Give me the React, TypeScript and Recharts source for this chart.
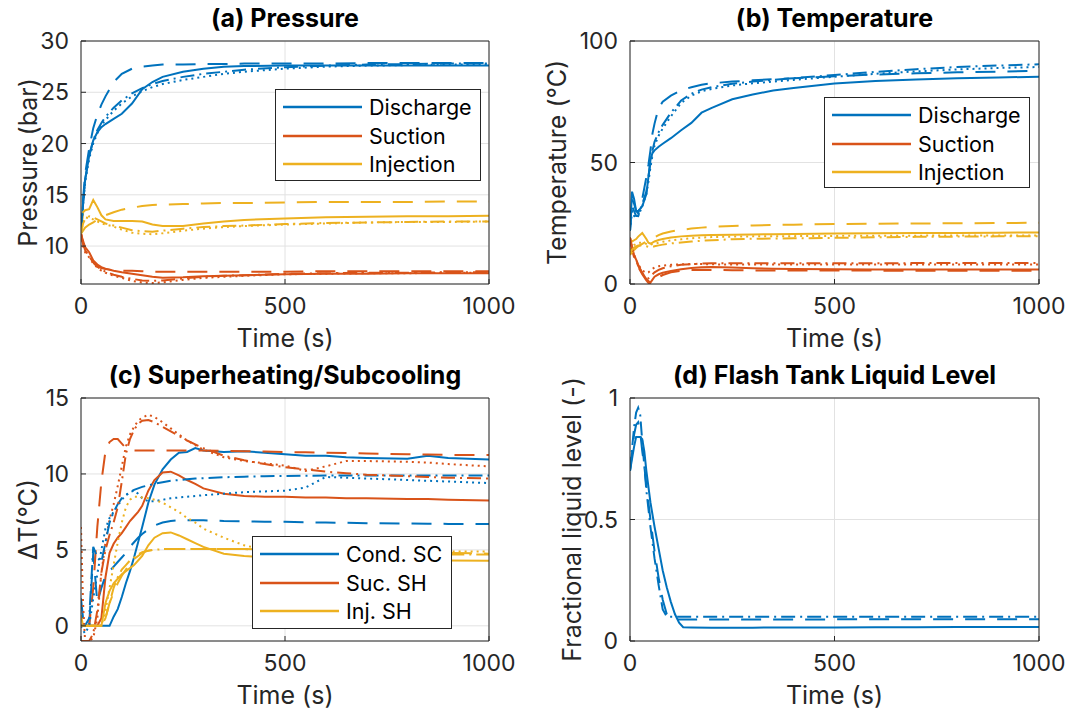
import React from 'react';
import { LineChart, Line, XAxis, YAxis, CartesianGrid, Legend } from 'recharts';

const BLUE = '#0072BD';
const ORANGE = '#D95319';
const YELLOW = '#EDB120';
const DASHED = '20 12';
const DOTTED = '2 4';
const DASHDOT = '14 5 2 5';

const TIME_TICKS = [0, 500, 1000];

// ---------- (a) Pressure ----------
const TIME_A = [0, 5, 10, 20, 30, 40, 50, 60, 80, 100, 125, 150, 175, 200, 250, 300, 350, 400, 500, 600, 700, 800, 900, 1000];
const A_DIS_SOLID = [11.2, 14.0, 16.4, 18.8, 20.3, 21.1, 21.6, 21.9, 22.4, 22.9, 23.9, 25.3, 26.0, 26.5, 27.0, 27.3, 27.5, 27.55, 27.6, 27.6, 27.6, 27.6, 27.6, 27.6];
const A_DIS_DASH = [11.2, 14.5, 17.0, 19.5, 21.5, 22.8, 23.8, 24.6, 26.0, 26.8, 27.3, 27.5, 27.6, 27.7, 27.7, 27.75, 27.75, 27.8, 27.8, 27.8, 27.85, 27.85, 27.85, 27.85];
const A_DIS_DOT = [11.2, 14.0, 16.2, 18.5, 20.0, 21.0, 21.8, 22.3, 23.2, 23.9, 24.6, 25.1, 25.5, 25.8, 26.2, 26.5, 26.8, 27.0, 27.3, 27.5, 27.6, 27.65, 27.7, 27.7];
const A_DIS_DASHDOT = [11.2, 14.2, 16.5, 18.8, 20.3, 21.3, 22.0, 22.6, 23.5, 24.2, 24.9, 25.4, 25.8, 26.1, 26.5, 26.8, 27.0, 27.2, 27.45, 27.6, 27.7, 27.75, 27.8, 27.8];
const A_SUC_SOLID = [11.2, 10.5, 9.9, 9.4, 8.6, 8.2, 7.95, 7.8, 7.6, 7.45, 7.3, 7.15, 7.0, 6.9, 6.95, 7.05, 7.1, 7.15, 7.25, 7.3, 7.3, 7.35, 7.35, 7.35];
const A_SUC_DASH = [11.2, 10.3, 9.6, 9.0, 8.4, 8.0, 7.85, 7.75, 7.65, 7.6, 7.6, 7.55, 7.5, 7.5, 7.5, 7.5, 7.5, 7.5, 7.5, 7.55, 7.55, 7.55, 7.55, 7.55];
const A_SUC_DOT = [11.2, 10.0, 9.4, 8.9, 8.3, 7.9, 7.6, 7.4, 7.1, 6.9, 6.6, 6.45, 6.4, 6.45, 6.7, 6.9, 7.0, 7.1, 7.25, 7.3, 7.35, 7.35, 7.4, 7.4];
const A_SUC_DASHDOT = [11.2, 10.2, 9.6, 9.0, 8.4, 8.0, 7.7, 7.5, 7.2, 7.0, 6.8, 6.65, 6.6, 6.65, 6.85, 7.0, 7.1, 7.15, 7.3, 7.35, 7.4, 7.4, 7.45, 7.45];
const A_INJ_SOLID = [11.2, 13.3, 13.5, 13.6, 14.5, 13.8, 13.0, 12.6, 12.45, 12.45, 12.45, 12.4, 12.1, 11.95, 11.95, 12.2, 12.4, 12.55, 12.7, 12.8, 12.85, 12.9, 12.9, 12.95];
const A_INJ_DASH = [11.2, 11.5, 11.8, 12.1, 12.3, 12.6, 12.8, 13.0, 13.3, 13.55, 13.75, 13.9, 14.0, 14.05, 14.1, 14.15, 14.2, 14.2, 14.25, 14.3, 14.3, 14.3, 14.35, 14.35];
const A_INJ_DOT = [11.2, 12.4, 12.8, 12.7, 12.6, 12.4, 12.2, 12.1, 11.9, 11.6, 11.3, 11.2, 11.15, 11.25, 11.5, 11.7, 11.85, 11.95, 12.1, 12.2, 12.3, 12.35, 12.35, 12.4];
const A_INJ_DASHDOT = [11.2, 12.2, 12.6, 12.9, 12.8, 12.6, 12.4, 12.2, 12.0, 11.8, 11.55, 11.45, 11.4, 11.5, 11.7, 11.85, 11.95, 12.0, 12.15, 12.25, 12.3, 12.35, 12.4, 12.4];
const A_Y_TICKS = [10, 15, 20, 25, 30];

// ---------- (b) Temperature ----------
const TIME_B = [0, 5, 10, 15, 20, 30, 40, 45, 50, 55, 60, 70, 80, 100, 125, 150, 175, 200, 250, 300, 350, 400, 500, 600, 700, 800, 900, 1000];
const B_DIS_SOLID = [22, 38, 35, 30, 30, 32, 37, 44, 51, 54, 55, 56.5, 57.7, 60, 63.3, 66.3, 70.5, 72.5, 76, 78, 79.6, 80.7, 82.5, 83.5, 84.2, 84.7, 85.0, 85.3];
const B_DIS_DASH = [22, 35, 33, 30, 29, 35, 44, 49, 55, 62, 66, 72.5, 75, 77.5, 79.7, 81, 82, 82.6, 83.3, 83.8, 84.3, 84.7, 85.5, 86.2, 86.7, 87.1, 87.4, 87.7];
const B_DIS_DOT = [22, 30, 28, 27, 28, 32, 37, 42, 48, 53, 57, 61, 64, 69, 74.5, 77.5, 79.3, 80.3, 81.7, 82.6, 83.3, 84, 85.3, 86.5, 87.5, 88.3, 88.9, 89.3];
const B_DIS_DASHDOT = [22, 32, 30, 28, 28, 33, 38, 44, 50, 55, 58.5, 62.5, 65.5, 70.5, 75.5, 78.3, 80, 81, 82.4, 83.3, 84, 84.7, 86.0, 87.3, 88.4, 89.3, 89.9, 90.4];
const B_SUC_SOLID = [19, 15, 12, 10, 8, 4.5, 2, 1.2, 0.6, 1.8, 3.0, 4.0, 4.6, 5.4, 6.1, 6.6, 6.9, 7.0, 6.8, 6.5, 6.3, 6.2, 6.1, 6.0, 6.0, 6.0, 6.0, 6.0];
const B_SUC_DASH = [19, 14, 11, 9, 7, 4, 1.5, 0.5, 0.2, 0.5, 1.5, 2.8, 3.7, 4.8, 5.5, 5.8, 5.9, 5.8, 5.7, 5.6, 5.6, 5.6, 5.55, 5.5, 5.5, 5.5, 5.5, 5.5];
const B_SUC_DOT = [19, 15, 12, 10, 8, 5.5, 4.5, 4.8, 5.5, 6.3, 6.8, 7.3, 7.6, 7.9, 8.1, 8.2, 8.2, 8.1, 8.0, 8.0, 8.0, 8.0, 8.0, 8.0, 8.0, 8.0, 8.0, 8.0];
const B_SUC_DASHDOT = [19, 14.5, 11.5, 9.5, 7.5, 4.5, 2.5, 2.3, 3, 4.0, 4.8, 5.8, 6.5, 7.3, 7.9, 8.2, 8.4, 8.5, 8.5, 8.5, 8.5, 8.5, 8.55, 8.55, 8.6, 8.6, 8.6, 8.6];
const B_INJ_SOLID = [18, 17.5, 18, 18.5, 19.5, 21, 18.5, 17, 16.6, 17, 17.5, 18.1, 18.5, 19.1, 19.6, 19.9, 20.1, 20.2, 20.3, 20.4, 20.5, 20.6, 20.8, 20.9, 21.0, 21.0, 21.1, 21.2];
const B_INJ_DASH = [12, 13, 14, 14.8, 15.5, 16.5, 17.5, 18, 18.4, 18.8, 19.2, 20.1, 20.8, 21.6, 22.3, 22.8, 23.2, 23.5, 23.9, 24.1, 24.3, 24.4, 24.7, 24.8, 24.9, 25.0, 25.1, 25.2];
const B_INJ_DOT = [14, 15, 16, 16.5, 17, 17, 16.5, 16.2, 16.2, 16.4, 16.6, 17, 17.4, 17.9, 18.4, 18.8, 19.1, 19.3, 19.5, 19.6, 19.65, 19.7, 19.8, 19.85, 19.9, 19.95, 20.0, 20.0];
const B_INJ_DASHDOT = [13, 14, 15, 15.5, 15.8, 15.8, 15.5, 15.3, 15.2, 15.3, 15.5, 15.9, 16.2, 16.7, 17.1, 17.5, 17.8, 18.0, 18.4, 18.6, 18.7, 18.8, 19.0, 19.2, 19.4, 19.5, 19.6, 19.7];
const B_Y_TICKS = [0, 50, 100];

// ---------- (c) Superheating / Subcooling ----------
const TIME_C = [0, 5, 10, 20, 30, 40, 50, 60, 70, 80, 90, 100, 110, 120, 130, 140, 150, 165, 180, 200, 220, 240, 260, 280, 300, 350, 400, 450, 500, 550, 600, 650, 700, 800, 850, 900, 1000];
const C_SC_SOLID = [0, 0, 0, 0, 0, 0, 0, 0, 0, 0.6, 1.1, 1.9, 2.8, 3.6, 4.5, 5.5, 6.5, 8.1, 9.3, 10.3, 10.95, 11.4, 11.45, 11.7, 11.55, 11.45, 11.5, 11.4, 11.3, 11.2, 11.2, 11.1, 11.05, 11.0, 11.2, 11.05, 10.95];
const C_SC_DASH = [1.8, 0.5, 0, 0, 4.8, 1.5, 2.5, 3.3, 3.6, 3.9, 4.2, 4.5, 4.8, 5.2, 5.5, 5.8, 6.05, 6.35, 6.6, 6.8, 6.9, 6.95, 6.95, 6.95, 6.95, 6.9, 6.88, 6.85, 6.85, 6.82, 6.8, 6.78, 6.76, 6.74, 6.72, 6.71, 6.7];
const C_SC_DOT = [0, -0.3, -0.5, 0, 1.8, 3.4, 5.0, 6.4, 7.1, 7.5, 7.9, 8.3, 8.6, 8.8, 8.9, 8.7, 8.4, 8.2, 8.2, 8.3, 8.4, 8.45, 8.5, 8.55, 8.6, 8.7, 8.8, 8.85, 8.9, 9.1, 9.8, 9.75, 9.7, 9.6, 9.55, 9.5, 9.4];
const C_SC_DASHDOT = [0, 0, 0, 0.5, 5.2, 4.5, 4.2, 5.5, 6.8, 7.5, 8.0, 8.4, 8.6, 8.8, 8.95, 9.05, 9.15, 9.25, 9.35, 9.45, 9.55, 9.6, 9.65, 9.7, 9.72, 9.78, 9.82, 9.85, 9.87, 9.88, 9.89, 9.9, 9.9, 9.9, 9.9, 9.9, 9.9];
const C_SH_SOLID = [0, 0, 0, 0, 0, 0, 0.5, 3.2, 4.8, 5.4, 5.8, 6.1, 6.5, 6.9, 7.2, 7.5, 7.9, 8.9, 9.6, 10.1, 10.15, 9.9, 9.6, 9.35, 9.05, 8.7, 8.55, 8.5, 8.5, 8.45, 8.45, 8.4, 8.4, 8.35, 8.35, 8.3, 8.25];
const C_SH_DASH = [0, 0, 0, 0, 2.5, 6.5, 9.5, 11.5, 12.1, 12.3, 12.3, 12.0, 11.7, 11.6, 11.55, 11.55, 11.55, 11.55, 11.55, 11.55, 11.55, 11.55, 11.55, 11.55, 11.55, 11.52, 11.5, 11.47, 11.45, 11.42, 11.4, 11.38, 11.35, 11.3, 11.28, 11.25, 11.25];
const C_SH_DOT = [6.5, 1.5, -1, -1, -0.8, 0.5, 3.5, 5.5, 7.0, 8.0, 9.2, 10.5, 11.8, 12.6, 13.1, 13.5, 13.7, 13.9, 13.75, 13.4, 13.0, 12.6, 12.2, 11.9, 11.6, 11.1, 10.85, 10.7, 10.55, 10.2, 10.5, 10.85, 10.85, 10.8, 10.75, 10.65, 10.5];
const C_SH_DASHDOT = [-1, -1, -1, -1, -0.5, 1.0, 3.5, 5.0, 6.0, 6.8, 7.8, 9.5, 11.3, 12.3, 12.9, 13.3, 13.5, 13.55, 13.4, 13.1, 12.8, 12.5, 12.2, 11.95, 11.7, 11.2, 10.9, 10.65, 10.45, 10.3, 10.15, 10.05, 9.95, 9.85, 9.8, 9.75, 9.7];
const C_INJ_SOLID = [0.7, 0, 0, 0, 0, 0, 0, 1.5, 2.3, 2.8, 3.1, 3.4, 3.6, 3.8, 4.0, 4.3, 4.6, 5.3, 5.8, 6.1, 6.15, 5.95, 5.7, 5.45, 5.2, 4.75, 4.6, 4.5, 4.45, 4.4, 4.38, 4.35, 4.33, 4.3, 4.3, 4.3, 4.28];
const C_INJ_DASH = [0, 0, 0, 0, 0, 0, 0, 0.5, 1.5, 2.2, 2.8, 3.3, 3.7, 4.1, 4.4, 4.6, 4.8, 4.95, 5.02, 5.05, 5.05, 5.05, 5.05, 5.05, 5.05, 5.05, 5.05, 5.03, 5.0, 4.98, 4.95, 4.92, 4.9, 4.85, 4.82, 4.8, 4.75];
const C_INJ_DOT = [0, 0, 0, 0, 0, 0, 0, 1.0, 2.5, 4.0, 5.5, 6.8, 7.8, 8.3, 8.5, 8.5, 8.45, 8.4, 8.3, 8.1, 7.8, 7.5, 7.1, 6.8, 6.4, 5.8, 5.3, 5.0, 4.95, 4.92, 4.9, 4.9, 4.9, 4.9, 4.9, 4.9, 4.9];
const C_INJ_DASHDOT = [0, 0, 0, 0, 0, 0, 0, 0.5, 1.5, 2.5, 3.2, 3.7, 4.0, 4.3, 4.5, 4.7, 4.85, 4.95, 5.0, 5.05, 5.05, 5.05, 5.05, 5.05, 5.05, 5.05, 5.05, 5.03, 5.0, 4.95, 4.9, 4.85, 4.8, 4.75, 4.72, 4.7, 4.7];
const C_Y_TICKS = [0, 5, 10, 15];

// ---------- (d) Flash tank liquid level ----------
const TIME_D = [0, 10, 15, 20, 25, 30, 35, 40, 50, 60, 70, 80, 90, 100, 110, 120, 130, 150, 200, 300, 400, 500, 600, 700, 800, 900, 1000];
const D_SOLID = [0.70, 0.80, 0.84, 0.84, 0.84, 0.83, 0.78, 0.70, 0.57, 0.47, 0.38, 0.29, 0.22, 0.16, 0.11, 0.075, 0.057, 0.056, 0.055, 0.055, 0.056, 0.056, 0.057, 0.057, 0.058, 0.058, 0.058];
const D_DASH = [0.70, 0.85, 0.89, 0.90, 0.86, 0.78, 0.72, 0.64, 0.50, 0.37, 0.26, 0.17, 0.11, 0.095, 0.09, 0.088, 0.088, 0.088, 0.088, 0.088, 0.088, 0.089, 0.089, 0.089, 0.09, 0.09, 0.09];
const D_DASHDOT = [0.70, 0.88, 0.94, 0.96, 0.93, 0.82, 0.72, 0.62, 0.47, 0.34, 0.23, 0.13, 0.10, 0.10, 0.10, 0.10, 0.10, 0.10, 0.10, 0.10, 0.10, 0.10, 0.10, 0.10, 0.10, 0.10, 0.10];
const D_Y_TICKS = [0, 0.5, 1];

const LEGEND_AB = ['Discharge', 'Suction', 'Injection'];
const LEGEND_C = ['Cond. SC', 'Suc. SH', 'Inj. SH'];
const LEGEND_COLORS = [BLUE, ORANGE, YELLOW];

type Series = { key: string; values: number[]; color: string; dash?: string };

const INK = '#262626';
const TICK_FONT = 23;
const LABEL_FONT = 25;
const TITLE_FONT = 25;

function LegendBox({ labels }: { labels: string[] }) {
  return (
    <div
      style={{
        border: `1px solid ${INK}`,
        background: '#fff',
        boxSizing: 'border-box',
        width: '100%',
        height: '100%',
        padding: '3px 0 0 7px',
        fontFamily: 'Inter, sans-serif',
        fontSize: 21.5,
        color: '#000',
      }}
    >
      {labels.map((l, i) => (
        <div key={l} style={{ display: 'flex', alignItems: 'center', height: 28.5 }}>
          <svg width={79} height={4} style={{ marginRight: 7, display: 'block' }}>
            <line x1={0} x2={79} y1={2} y2={2} stroke={LEGEND_COLORS[i]} strokeWidth={2.5} />
          </svg>
          <span style={{ lineHeight: '28px', whiteSpace: 'nowrap' }}>{l}</span>
        </div>
      ))}
    </div>
  );
}

type PanelProps = {
  left: number;
  top: number;
  plotLeft: number;
  rightMargin: number;
  title: string;
  yLabel: string;
  yLabelOffset: number;
  domain: [number, number];
  yTicks: number[];
  time: number[];
  series: Series[];
  legend?: { labels: string[]; left: number; top: number; width: number; height: number };
};

function Panel(p: PanelProps) {
  const W = 535;
  const H = 356;
  const data = p.time.map((t, i) => {
    const row: Record<string, number> = { t };
    p.series.forEach((s) => {
      row[s.key] = s.values[i];
    });
    return row;
  });
  const plotW = W - p.plotLeft - p.rightMargin - 1;
  const cx = p.plotLeft + plotW / 2;
  return (
    <div style={{ position: 'absolute', left: p.left, top: p.top, width: W, height: H }}>
      <LineChart width={W} height={H} data={data} margin={{ top: 40, right: p.rightMargin, bottom: 0, left: 0 }}>
        <CartesianGrid stroke="#e2e2e2" strokeWidth={1} />
        {p.series.map((s) => (
          <Line
            key={s.key}
            dataKey={s.key}
            type="linear"
            stroke={s.color}
            strokeWidth={2}
            strokeDasharray={s.dash}
            dot={false}
            activeDot={false}
            isAnimationActive={false}
          />
        ))}
        <XAxis
          dataKey="t"
          type="number"
          domain={[0, 1000]}
          ticks={TIME_TICKS}
          interval={0}
          height={72}
          tickSize={-5}
          tickMargin={19}
          stroke={INK}
          tick={{ fontSize: TICK_FONT, fill: INK }}
          allowDataOverflow
          label={{ value: 'Time (s)', position: 'insideBottom', offset: 9, style: { fontSize: LABEL_FONT, fill: INK } }}
        />
        <XAxis
          xAxisId="top"
          orientation="top"
          dataKey="t"
          type="number"
          domain={[0, 1000]}
          ticks={TIME_TICKS}
          interval={0}
          height={1}
          tickSize={-5}
          tick={false}
          stroke={INK}
          allowDataOverflow
        />
        <YAxis
          type="number"
          domain={p.domain}
          ticks={p.yTicks}
          interval={0}
          width={p.plotLeft}
          tickSize={-5}
          tickMargin={17}
          stroke={INK}
          tick={{ fontSize: TICK_FONT, fill: INK }}
          allowDataOverflow
          label={{
            value: p.yLabel,
            angle: -90,
            position: 'insideLeft',
            offset: p.yLabelOffset,
            style: { textAnchor: 'middle', fontSize: LABEL_FONT, fill: INK },
          }}
        />
        <YAxis
          yAxisId="right"
          orientation="right"
          type="number"
          domain={p.domain}
          ticks={p.yTicks}
          interval={0}
          width={1}
          tickSize={-5}
          tick={false}
          stroke={INK}
          allowDataOverflow
        />
        <text x={cx} y={27} textAnchor="middle" fontSize={TITLE_FONT} fontWeight="bold" fill="#000">
          {p.title}
        </text>
        {p.legend && (
          <Legend
            layout="vertical"
            align="center"
            verticalAlign="middle"
            wrapperStyle={{ left: p.legend.left, top: p.legend.top, width: p.legend.width, height: p.legend.height }}
            content={() => <LegendBox labels={p.legend!.labels} />}
          />
        )}
      </LineChart>
    </div>
  );
}

const SERIES_A: Series[] = [
  { key: 'disS', values: A_DIS_SOLID, color: BLUE },
  { key: 'sucS', values: A_SUC_SOLID, color: ORANGE },
  { key: 'injS', values: A_INJ_SOLID, color: YELLOW },
  { key: 'disD', values: A_DIS_DASH, color: BLUE, dash: DASHED },
  { key: 'sucD', values: A_SUC_DASH, color: ORANGE, dash: DASHED },
  { key: 'injD', values: A_INJ_DASH, color: YELLOW, dash: DASHED },
  { key: 'disO', values: A_DIS_DOT, color: BLUE, dash: DOTTED },
  { key: 'sucO', values: A_SUC_DOT, color: ORANGE, dash: DOTTED },
  { key: 'injO', values: A_INJ_DOT, color: YELLOW, dash: DOTTED },
  { key: 'disC', values: A_DIS_DASHDOT, color: BLUE, dash: DASHDOT },
  { key: 'sucC', values: A_SUC_DASHDOT, color: ORANGE, dash: DASHDOT },
  { key: 'injC', values: A_INJ_DASHDOT, color: YELLOW, dash: DASHDOT },
];

const SERIES_B: Series[] = [
  { key: 'disS', values: B_DIS_SOLID, color: BLUE },
  { key: 'sucS', values: B_SUC_SOLID, color: ORANGE },
  { key: 'injS', values: B_INJ_SOLID, color: YELLOW },
  { key: 'disD', values: B_DIS_DASH, color: BLUE, dash: DASHED },
  { key: 'sucD', values: B_SUC_DASH, color: ORANGE, dash: DASHED },
  { key: 'injD', values: B_INJ_DASH, color: YELLOW, dash: DASHED },
  { key: 'disO', values: B_DIS_DOT, color: BLUE, dash: DOTTED },
  { key: 'sucO', values: B_SUC_DOT, color: ORANGE, dash: DOTTED },
  { key: 'injO', values: B_INJ_DOT, color: YELLOW, dash: DOTTED },
  { key: 'disC', values: B_DIS_DASHDOT, color: BLUE, dash: DASHDOT },
  { key: 'sucC', values: B_SUC_DASHDOT, color: ORANGE, dash: DASHDOT },
  { key: 'injC', values: B_INJ_DASHDOT, color: YELLOW, dash: DASHDOT },
];

const SERIES_C: Series[] = [
  { key: 'scS', values: C_SC_SOLID, color: BLUE },
  { key: 'shS', values: C_SH_SOLID, color: ORANGE },
  { key: 'injS', values: C_INJ_SOLID, color: YELLOW },
  { key: 'scD', values: C_SC_DASH, color: BLUE, dash: DASHED },
  { key: 'shD', values: C_SH_DASH, color: ORANGE, dash: DASHED },
  { key: 'injD', values: C_INJ_DASH, color: YELLOW, dash: DASHED },
  { key: 'scO', values: C_SC_DOT, color: BLUE, dash: DOTTED },
  { key: 'shO', values: C_SH_DOT, color: ORANGE, dash: DOTTED },
  { key: 'injO', values: C_INJ_DOT, color: YELLOW, dash: DOTTED },
  { key: 'scC', values: C_SC_DASHDOT, color: BLUE, dash: DASHDOT },
  { key: 'shC', values: C_SH_DASHDOT, color: ORANGE, dash: DASHDOT },
  { key: 'injC', values: C_INJ_DASHDOT, color: YELLOW, dash: DASHDOT },
];

const SERIES_D: Series[] = [
  { key: 'lvlS', values: D_SOLID, color: BLUE },
  { key: 'lvlD', values: D_DASH, color: BLUE, dash: DASHED },
  { key: 'lvlC', values: D_DASHDOT, color: BLUE, dash: DASHDOT },
];

export default function App() {
  return (
    <div
      style={{
        position: 'absolute',
        left: 0,
        top: 0,
        width: 1070,
        height: 712,
        background: '#fff',
        fontFamily: 'Inter, sans-serif',
      }}
    >
      <Panel
        left={0}
        top={0}
        plotLeft={81}
        rightMargin={45}
        title="(a) Pressure"
        yLabel="Pressure (bar)"
        yLabelOffset={28}
        domain={[6.3, 30]}
        yTicks={A_Y_TICKS}
        time={TIME_A}
        series={SERIES_A}
        legend={{ labels: LEGEND_AB, left: 275, top: 89, width: 206, height: 92 }}
      />
      <Panel
        left={535}
        top={0}
        plotLeft={95}
        rightMargin={30}
        title="(b) Temperature"
        yLabel="Temperature (°C)"
        yLabelOffset={22}
        domain={[0, 100]}
        yTicks={B_Y_TICKS}
        time={TIME_B}
        series={SERIES_B}
        legend={{ labels: LEGEND_AB, left: 289, top: 97, width: 206, height: 91 }}
      />
      <Panel
        left={0}
        top={357}
        plotLeft={81}
        rightMargin={45}
        title="(c) Superheating/Subcooling"
        yLabel="ΔT(°C)"
        yLabelOffset={28}
        domain={[-1, 15]}
        yTicks={C_Y_TICKS}
        time={TIME_C}
        series={SERIES_C}
        legend={{ labels: LEGEND_C, left: 252, top: 179, width: 200, height: 93 }}
      />
      <Panel
        left={535}
        top={357}
        plotLeft={95}
        rightMargin={30}
        title="(d) Flash Tank Liquid Level"
        yLabel="Fractional liquid level (-)"
        yLabelOffset={37}
        domain={[0, 1]}
        yTicks={D_Y_TICKS}
        time={TIME_D}
        series={SERIES_D}
      />
    </div>
  );
}
